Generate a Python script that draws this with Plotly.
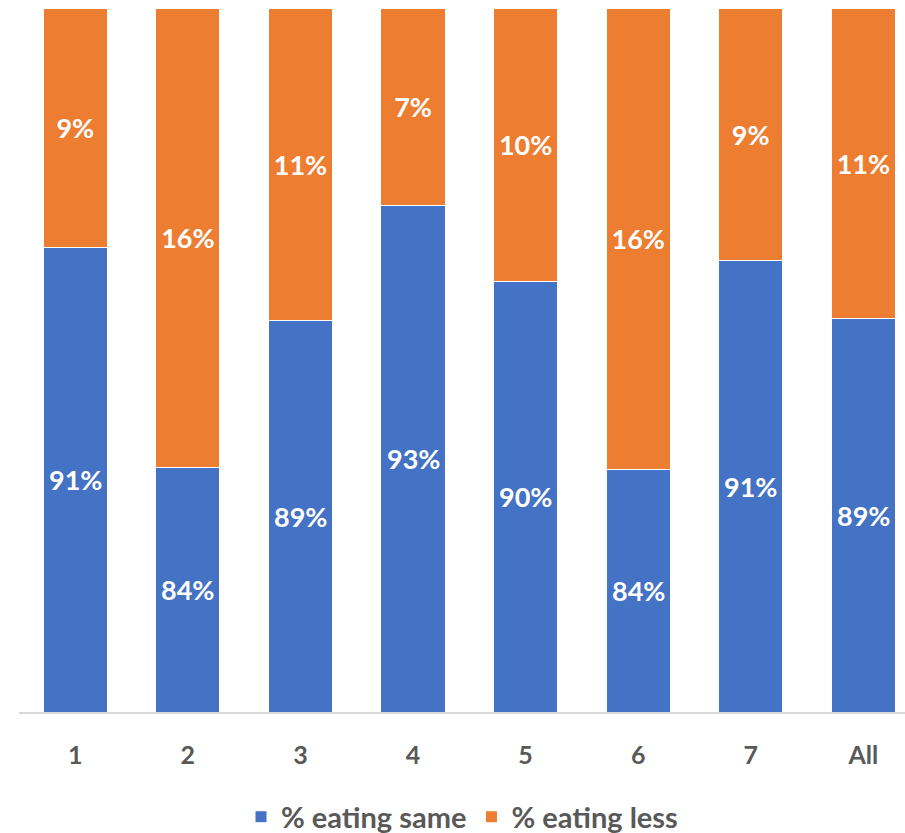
import plotly.graph_objects as go

categories = ["1", "2", "3", "4", "5", "6", "7", "All"]
eating_same = [91.5, 83.7, 88.9, 93.0, 90.3, 83.6, 91.05, 88.99]
eating_less = [8.5, 16.3, 11.1, 7.0, 9.7, 16.4, 8.95, 11.01]
same_labels = ["91%", "84%", "89%", "93%", "90%", "84%", "91%", "89%"]
less_labels = ["9%", "16%", "11%", "7%", "10%", "16%", "9%", "11%"]
axis_min = 75

FONT = "Lato"
LABEL_FONT = dict(color="white", size=27, family=FONT, weight="bold")
fig = go.Figure()
fig.add_trace(go.Bar(
    x=categories, y=eating_same, name="% eating same",
    marker=dict(color="#4472C4", line=dict(color="white", width=1)),
))
fig.add_trace(go.Bar(
    x=categories, y=eating_less, name="% eating less",
    marker=dict(color="#ED7D31", line=dict(color="white", width=1)),
    text=less_labels, textposition="inside", insidetextanchor="middle",
    textfont=LABEL_FONT, textangle=0,
))
for i, (v, t) in enumerate(zip(eating_same, same_labels)):
    fig.add_annotation(x=i, y=(axis_min + v) / 2, text=t, showarrow=False,
                       font=LABEL_FONT, xref="x", yref="y")

fig.update_layout(
    barmode="stack", bargap=0.43,
    width=905, height=833,
    margin=dict(l=19, r=0, t=8, b=121, autoexpand=False),
    plot_bgcolor="white", paper_bgcolor="white",
    font=dict(family=FONT, color="#595959"),
    xaxis=dict(range=[-0.5, 7.37], showline=True, linecolor="#d9d9d9", linewidth=1.5,
               ticks="", tickfont=dict(size=25, weight="bold", color="#595959"),
               ticklabelstandoff=20, showgrid=False),
    yaxis=dict(range=[axis_min, 100], visible=False, showgrid=False),
    legend=dict(orientation="h", x=0.5, xanchor="center", y=-0.149, yanchor="middle",
                font=dict(size=29, weight="bold", color="#595959"), traceorder="normal"),
)
fig.write_html("out.html")
